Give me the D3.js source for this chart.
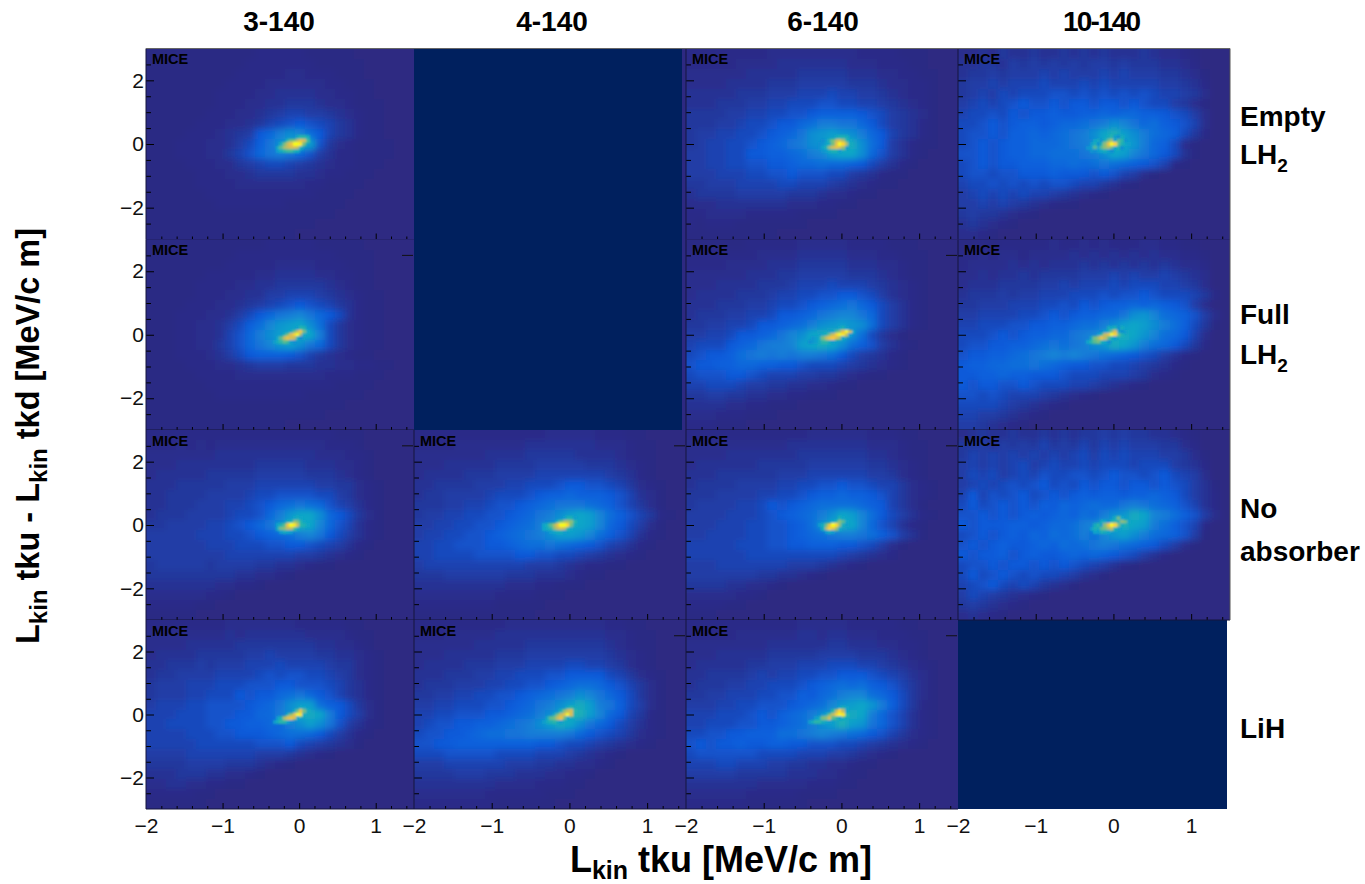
<!DOCTYPE html>
<html lang="en">
<head>
<meta charset="UTF-8">
<title>Lkin tku vs Lkin tku - Lkin tkd</title>
<script src="https://d3js.org/d3.v7.min.js"></script>
<style>
  html, body { margin: 0; padding: 0; background: #fff; }
  svg { display: block; }
  text { font-family: "Liberation Sans", Arial, sans-serif; fill: #000; }
  .title { font-weight: bold; }
  .tick text { font-size: 21px; fill: #111; font-family: "Liberation Sans", Arial, sans-serif; }
</style>
</head>
<body>
<svg id="chart" width="1365" height="884"></svg>
<script>
var columnTitles = ["3-140", "4-140", "6-140", "10-140"];
var rowTitles = [["Empty", "LH2"], ["Full", "LH2"], ["No", "absorber"], ["LiH"]];
var xLabelTicks = [-2, -1, 0, 1];
var xMajorTicks = [-1, 0, 1];
var xMinorTicks = [-1.8, -1.6, -1.4, -1.2, -0.8, -0.6, -0.4, -0.2, 0.2, 0.4, 0.6, 0.8, 1.2, 1.4];
var yLabelTicks = [2, 0, -2];
var yMinorTicks = [2.5, 1.5, 1, 0.5, -0.5, -1, -1.5, -2.5];

// bin contents, one digit per bin, base 36 (0 = empty, z = peak)
// 27 columns over x -2..1.5, 19 rows over y 3..-3
var empty3 = ["111111111112222211111000000","111111111122222221111100000","111111111222223322211100000","111111112222333333221110000","111111122223344443322110000","111111122233445554332111000","111111222334567766543211000","111112223345789a98754211000","11112223456acfhgda754211000","11122233468behklj9532111100","11122233579cefec96422111100","111122233567887654322111000","111112223345555443221110000","111112222333333322111100000","111111222222222221111000000","111111122222221111110000000","111111111111111111100000000","111111111111111110000000000","111111111111111000000000000"];
var empty6 = ["222222223333333332222111000","222223333444444433322211000","333333444445555544433221100","333344445556666655543322100","444445556667778776654322100","444555667788899887765432100","555566778899abbbba986543100","555667889aacdffeeca86542100","56677889abcehijihfca7542100","5677889abcefhilmlhda6421100","667788aabbcdfgjkkhc96421000","66778899aabccdccba864210000","6667778899a9998865421100000","556667777887776543211000000","455556666655543321100000000","333444444433322110000000000","223333222221111000000000000","212221111111000000000000000","111111111000000000000000000"];
var empty10 = ["334354454454545444543321000","445546565656566565554432000","455656667676667676665543100","566767778777878777776654200","567687888998989898987765300","678789a99a9aa9aa9a988653100","78898a9aabaabbcbccbba986300","889a9abbabccdefhgecdba97300","899a9bbcbcdefhkmjhfdcb85200","89a9abbcccdefgklkifcb831000","99a9abbccdddefhkjgeca841000","89a9aabbbccdcdedcba97210000","899899aaabaaa9a976310000000","788989898998775421000000000","678787877654321000000000000","667676543211000000000000000","565543210000000000000000000","454321000000000000000000000","332100000000000000000000000"];
var full3 = ["111111111111222221111100000","111111111222222222211110000","111111112222233332221110000","111111222223344443322110000","111112222334455555432110000","111112223344667776543211000","111122233456789a98754211000","11122233468acefgeca84211000","1112233468bdgijkhd853211000","1112233479cfhjklkf853211000","1112233579cegijhec853211000","1112223468abbba975432110000","111122233456665554433221100","111112222333333333222111000","111111222222222222211110000","111111122222222211111100000","111111111111111111110000000","111111111111111111000000000","111111111111110000000000000"];
var full6 = ["111111222223333322221110000","222222233334444433322111000","222233334445555544433211000","333333444556666655543211000","333444455567778777654321000","344445556778899aa9864321000","444555667889abcdeca86421000","455566778aabcefggec86421000","5566778aabcdfhijihd86421000","66778aabceghklmlhd853100000","7888abceffgjklkhdb964210000","89aabdefefeffeda86542100000","9aabbccbbaa9888765432100000","8999aa987776655432110000000","778887665544332110000000000","556655443322111000000000000","444433221110000000000000000","333222111000000000000000000","222111000000000000000000000"];
var full10 = ["112122222322323222332211000","223233233334343434343322100","233334343444545454545433200","334344545555666767667654300","344455556676777878887765300","455565667778889899a98887520","556667778898a9abbcbcba96300","667777889a9abbccehigdcb9630","7788899aabbcddfhjkjhfdb8510","8889a9abbccefgiklkigdca7300","899aabbcdedefhilkifdca85200","9aabbcdefgfgfedcba986421000","abbccddedcbaa99887654210000","aabbcbbaaa98887776532100000","a9aa99a98887765432100000000","998987776543210000000000000","888876543210000000000000000","776654321000000000000000000","665432100000000000000000000"];
var none3 = ["222222222222222222211100000","222323233333333333222100000","333333344444444443332210000","333444444445555544433210000","344444555556666655543210000","444555556667777776655321000","445555666678899998865321000","445556667789acdedc976421000","455566667889cfikkhca8531000","5566667789acehklkgc97421000","66666777889abcdfgea86421000","66666677788899aa98764210000","666666667777777665432100000","566666566665544321100000000","555555555443321000000000000","444444433221000000000000000","333333221000000000000000000","222221100000000000000000000","111110000000000000000000000"];
var none4 = ["222222222222233333222110000","222233333334444444333211000","333333344445555544443211000","333444445555666665554321000","344445556666777777765421000","445555666778889aa9987532100","455666678889abbcbbba9743100","5556677899abcdeeedcb9753100","566778899abcefhjkjgdb975210","66778899abcdfhjkkjgca863100","6778899abcdefhjjigdb9742100","7788999aabcddedcba976421000","7788889999aa998876543210000","677777777776665432211000000","555666666555444321100000000","444444444333221110000000000","333333332222111000000000000","222222221111100000000000000","111111111111000000000000000"];
var none6 = ["222222222222333333222110000","333333333344444444333211000","333344444445555555443211000","344444455555666666554321000","444555555666777777665321000","455556666778899a99877532100","555666677889abbcbba97532100","56666778a9abcddddcba7531000","666677789abcdfhkjgda8642100","6667778899abdhklkgc97421000","6677778899abcdeffedb9641000","7777788899aabbbaa9863100000","777777888888888765432000000","666777777766654321000000000","666666655443210000000000000","555544332100000000000000000","333332210000000000000000000","222211000000000000000000000","111000000000000000000000000"];
var none10 = ["345445445454556565544321000","556465657565757676665532000","576767676767868787776653100","676767867877878887888654200","687867879889989a9989a876300","67878989a898a9aa9aa9a986410","7a7989a89a9ababbabbcba86420","8a89a9a9bacbcdccefedcb97420","99a9a9ababcbdcfhilkgfdb9630","a9aaabbabccdfgjklkjfdb97200","89a9abacbdcdfdgijhfdcb96100","9a9abaabcbdcdefedcba8631000","a9aab9abaabcbcba98642000000","899a9aa9a9a9876421000000000","8a89a9898876431000000000000","789a87875431000000000000000","687654321000000000000000000","565432100000000000000000000","343210000000000000000000000"];
var lih3 = ["222222223333333222221100000","333333334344444433332110000","333344444555555554433210000","344445555566766665544321000","445556566677787777655321000","455666677778989988765321000","5666777888999aa999875421000","566677888a9aacdeca975421000","6777889999abcehjjdba8531000","777888999aaccfhklkfa8631000","77888899aabbccfhjhe96421000","777788899aaabcddca864210000","77777888888999a876543100000","666677777776665432100000000","555566665554321000000000000","444555443321000000000000000","334433221100000000000000000","222221100000000000000000000","111111000000000000000000000"];
var lih4 = ["222222222333333333322110000","222333334444444444433211000","333333444445555555543211000","333444445556666666654321000","344445556667777887765321000","444555667788899aaaa87532100","4555666778899abcddca9753100","5566778899abcdefhgeca853100","667788899abcefhjljfeb863100","7788999aabcdfhjlmjgca752100","7899aabbcdefhjlkheca8642100","899aabcddeeffffeca987532100","99aabbbbbbbbaa9887654321000","888999998888777654321000000","666777777666554433210000000","555566655544433221000000000","444444443333222110000000000","333333322222211100000000000","222222221111110000000000000"];
var lih6 = ["222222222223333322222110000","222223333334434433322211000","333333334444445544433221000","333444445555566665554321000","344444556667778887765432100","445555676778899aaa987643100","455566778889abcdcdba9753100","55667778899bacdfggdca853100","6667788999abcdgijkifb852100","7778889a9bcdfhjklkfc9742100","7788899aabcdfhjmjiec9742100","8899aabbbddefgfedca97532100","9a9aabaabbaa999887654321000","899999988887776654321000000","777887776655443321100000000","666665555544433211000000000","444444433333222110000000000","333333222221111000000000000","222222111111000000000000000"];

// finer read of the hot spot, 18 columns over x -0.52..0.26, 5 rows over y 0.27..-0.27, "." = nothing extra
var empty3Core = ["...........lnnl...","........nqrtvuo...","......lqtvzzyq....",".....lpstuutl.....",".....jlnooml......"];
var empty6Core = ["..........lmml....","......hjnqtusnk...",".....hiklqvzxsl...",".....hknsuvurj....","......ijlmmj......"];
var empty10Core = ["..........lnjhl...","......klhmqskpnh..",".....jlhmrvzxpmkj.","....ijpkprsqkmh...",".....ihjkljh......"];
var full3Core = ["...........jnm....",".........lqtwqk...",".......mquxzsk....",".....kptvutlh.....","....jlnpojh......."];
var full6Core = ["...........kmj....","........jkprvzuk..",".....jkmqtxzytj...","...ijlqtvwusk.....","..hijlnnlj........"];
var full10Core = ["..........lkmhl...",".........jlqukhj..",".......jntvzxpm...",".....lqsvtpmj.....","....knpqmkh......."];
var none3Core = ["..........klk.....","........lmrqnk....",".....kmpvzytnmk...",".....lqrttok......","......jlkj........"];
var none4Core = ["..........jmmj....","........mqssrn....","....kmpsvzzxql....","....klnrtutnk.....","......jkllj......."];
var none6Core = ["...........mk.....",".........knrpk....",".....jlqvzxrlj....","......ltxvrk......",".......jlj........"];
var none10Core = ["............lqk...","........lkhmnlrqk.","......lnjrvzxqlm..",".....jmlpqstmj....","......kjmlk......."];
var lih3Core = ["............lk....","..........lqvql...","........mrvzyl....",".....jmsuvuk......","....jlnnkh........"];
var lih4Core = ["...........lnl....",".........mrtun....",".......lqtvzum....",".....lpqtvqk......","....jlmnlj........"];
var lih6Core = ["...........kmk....",".........ntxtk....","......ilqtxzyn....","....jlqrupnk......","..jlnnlkj........."];

var panels = [
  { row: 0, col: 0, bins: empty3, core: empty3Core },
  { row: 0, col: 2, bins: empty6, core: empty6Core },
  { row: 0, col: 3, bins: empty10, core: empty10Core },
  { row: 1, col: 0, bins: full3, core: full3Core, mark: true },
  { row: 1, col: 2, bins: full6, core: full6Core, mark: true },
  { row: 1, col: 3, bins: full10, core: full10Core },
  { row: 2, col: 0, bins: none3, core: none3Core, mark: true },
  { row: 2, col: 1, bins: none4, core: none4Core, mark: true },
  { row: 2, col: 2, bins: none6, core: none6Core, mark: true },
  { row: 2, col: 3, bins: none10, core: none10Core },
  { row: 3, col: 0, bins: lih3, core: lih3Core },
  { row: 3, col: 1, bins: lih4, core: lih4Core, mark: true },
  { row: 3, col: 2, bins: lih6, core: lih6Core, mark: true }
];

var colEdges = [146, 414, 686, 958, 1230];
var rowEdges = [48.5, 239.5, 430, 620, 809];
var NAVY = "#00205e";

var svg = d3.select("#chart");
var defs = svg.append("defs");
defs.append("filter").attr("id", "soft").attr("x", "-5%").attr("y", "-5%").attr("width", "110%").attr("height", "110%")
  .append("feGaussianBlur").attr("stdDeviation", 3);
defs.append("filter").attr("id", "softCore").attr("x", "-20%").attr("y", "-20%").attr("width", "140%").attr("height", "140%")
  .append("feGaussianBlur").attr("stdDeviation", 0.9);

// ROOT bird palette, lowest colour darkened a bit to the picture's background
var level = d3.scalePow().exponent(1.7).domain([0, 35]).range([0, 1]);
var bird = d3.scaleLinear()
  .domain([0, 0.125, 0.25, 0.375, 0.5, 0.625, 0.75, 0.875, 1])
  .range(["#2d2982", "#0f5cdd", "#1481d6", "#06a4ca", "#2eb7a4", "#87bf77", "#d1bb59", "#fec832", "#f9fb0e"])
  .clamp(true);
function binColor(ch) { return bird(level(parseInt(ch, 36))); }

function xScale(col) { return d3.scaleLinear().domain([-2, 1.5]).range([colEdges[col], colEdges[col + 1]]); }
function yScale(row) { return d3.scaleLinear().domain([3, -3]).range([rowEdges[row], rowEdges[row + 1]]); }

// navy blocks where there is no data, with the thin purple sliver beside them
svg.append("rect").attr("x", colEdges[1]).attr("y", rowEdges[0]).attr("width", colEdges[2] - colEdges[1])
  .attr("height", rowEdges[2] - rowEdges[0]).attr("fill", bird(0));
svg.append("rect").attr("x", colEdges[1]).attr("y", rowEdges[0]).attr("width", colEdges[2] - colEdges[1] - 4)
  .attr("height", rowEdges[2] - rowEdges[0]).attr("fill", NAVY);
svg.append("rect").attr("x", colEdges[3]).attr("y", rowEdges[3]).attr("width", colEdges[4] - colEdges[3] - 3)
  .attr("height", rowEdges[4] - rowEdges[3]).attr("fill", NAVY);

panels.forEach(function(p, idx) {
  var x = xScale(p.col), y = yScale(p.row);
  var g = svg.append("g");
  var clipId = "clip" + idx;
  defs.append("clipPath").attr("id", clipId).append("rect")
    .attr("x", x(-2)).attr("y", y(3)).attr("width", x(1.5) - x(-2)).attr("height", y(-3) - y(3));

  g.append("rect").attr("x", x(-2)).attr("y", y(3)).attr("width", x(1.5) - x(-2)).attr("height", y(-3) - y(3))
    .attr("fill", bird(0));

  var clipped = g.append("g").attr("clip-path", "url(#" + clipId + ")");

  // coarse bins; the outermost ones run past the frame so the blur does not fade at the edge
  var nx = p.bins[0].length, ny = p.bins.length, dx = 3.5 / nx, dy = 6 / ny, over = 12;
  var cells = [];
  p.bins.forEach(function(line, r) {
    line.split("").forEach(function(ch, c) { cells.push({ r: r, c: c, ch: ch }); });
  });
  clipped.append("g").attr("filter", "url(#soft)").attr("shape-rendering", "crispEdges")
    .selectAll("rect").data(cells).enter().append("rect")
    .attr("x", function(d) { return x(-2 + d.c * dx) - (d.c === 0 ? over : 0); })
    .attr("y", function(d) { return y(3 - d.r * dy) - (d.r === 0 ? over : 0); })
    .attr("width", function(d) { return x(dx) - x(0) + 0.5 + (d.c === 0 || d.c === nx - 1 ? over : 0); })
    .attr("height", function(d) { return y(0) - y(dy) + 0.5 + (d.r === 0 || d.r === ny - 1 ? over : 0); })
    .attr("fill", function(d) { return binColor(d.ch); });

  // fine bins of the hot spot
  var cnx = 18, cny = 5, cdx = 0.78 / cnx, cdy = 0.54 / cny, hot = [];
  p.core.forEach(function(line, r) {
    line.split("").forEach(function(ch, c) { if (ch !== ".") hot.push({ r: r, c: c, ch: ch }); });
  });
  clipped.append("g").attr("filter", "url(#softCore)").attr("shape-rendering", "crispEdges")
    .selectAll("rect").data(hot).enter().append("rect")
    .attr("x", function(d) { return x(-0.52 + d.c * cdx); })
    .attr("y", function(d) { return y(0.27 - d.r * cdy); })
    .attr("width", x(cdx) - x(0) + 0.5)
    .attr("height", y(0) - y(cdy) + 0.5)
    .attr("fill", function(d) { return binColor(d.ch); });

  // ticks inside the frame
  var left = g.append("g").attr("transform", "translate(" + x(-2) + ",0)");
  left.call(d3.axisRight(y).tickValues(yMinorTicks).tickSize(5).tickFormat(""));
  left.select(".domain").remove();
  var leftMajor = g.append("g").attr("transform", "translate(" + x(-2) + ",0)");
  leftMajor.call(d3.axisRight(y).tickValues(yLabelTicks).tickSize(8).tickFormat(""));
  leftMajor.select(".domain").remove();

  var bottom = g.append("g").attr("transform", "translate(0," + y(-3) + ")");
  bottom.call(d3.axisTop(x).tickValues(xMinorTicks).tickSize(3).tickFormat(""));
  bottom.select(".domain").remove();
  var bottomMajor = g.append("g").attr("transform", "translate(0," + y(-3) + ")");
  bottomMajor.call(d3.axisTop(x).tickValues(xMajorTicks).tickSize(6).tickFormat(""));
  bottomMajor.select(".domain").remove();

  // frame: dark left and bottom lines
  g.append("line").attr("x1", x(-2)).attr("x2", x(-2)).attr("y1", y(3)).attr("y2", y(-3)).attr("stroke", "#14143c");
  g.append("line").attr("x1", x(-2)).attr("x2", x(1.5)).attr("y1", y(-3)).attr("y2", y(-3)).attr("stroke", "#14143c");

  if (p.mark) {
    g.append("line").attr("x1", x(1.5) - 12).attr("x2", x(1.5) - 1).attr("y1", y(2.5)).attr("y2", y(2.5)).attr("stroke", "#111");
  }

  g.append("text").attr("x", x(-2) + 6).attr("y", y(3) + 15.5)
    .attr("font-size", 14.5).attr("font-weight", "bold").text("MICE");
});

// outer frame bits at the top and the right
svg.append("line").attr("x1", colEdges[0]).attr("x2", colEdges[4]).attr("y1", rowEdges[0]).attr("y2", rowEdges[0]).attr("stroke", "#666");
svg.append("line").attr("x1", colEdges[4]).attr("x2", colEdges[4]).attr("y1", rowEdges[0]).attr("y2", rowEdges[3]).attr("stroke", "#555");

// tick labels on the outer edges
rowEdges.slice(0, 4).forEach(function(_, row) {
  var a = svg.append("g").attr("transform", "translate(" + (colEdges[0] - 1) + ",0)")
    .call(d3.axisLeft(yScale(row)).tickValues(yLabelTicks).tickSize(0).tickPadding(1).tickFormat(d3.format("d")));
  a.select(".domain").remove();
});
colEdges.slice(0, 4).forEach(function(_, col) {
  var a = svg.append("g").attr("transform", "translate(0," + (rowEdges[4] + 1) + ")")
    .call(d3.axisBottom(xScale(col)).tickValues(xLabelTicks).tickSize(0).tickPadding(8).tickFormat(d3.format("d")));
  a.select(".domain").remove();
});

// column titles
columnTitles.forEach(function(t, i) {
  var el = svg.append("text").attr("class", "title").attr("x", [279, 552, 823, 1102][i]).attr("y", 31)
    .attr("text-anchor", "middle").attr("font-size", 28).text(t);
  if (t === "10-140") el.attr("textLength", 78);
});

// row titles, LH2 gets a subscript
var rowTitleY = [[126, 164], [324, 364], [518, 561], [738]];
rowTitles.forEach(function(lines, r) {
  lines.forEach(function(t, i) {
    var el = svg.append("text").attr("class", "title").attr("x", 1240).attr("y", rowTitleY[r][i]).attr("font-size", 28);
    if (t === "LH2") {
      el.append("tspan").text("LH");
      el.append("tspan").attr("font-size", 19).attr("dy", 8).text("2");
    } else {
      el.text(t);
    }
  });
});

function axisTitle(el, size, subSize, shift, parts) {
  parts.forEach(function(part, i) {
    var prev = i > 0 ? parts[i - 1][1] : 0;
    el.append("tspan").attr("font-size", part[1] ? subSize : size)
      .attr("dy", part[1] ? shift : (prev ? -shift : 0)).text(part[0]);
  });
}

var xTitle = svg.append("text").attr("class", "title").attr("x", 721).attr("y", 872)
  .attr("text-anchor", "middle").style("white-space", "pre");
axisTitle(xTitle, 36, 25, 7, [["L", 0], ["kin", 1], [" tku [MeV/c m]", 0]]);

var yTitle = svg.append("text").attr("class", "title").attr("text-anchor", "middle").style("white-space", "pre")
  .attr("transform", "translate(39,436) rotate(-90)");
axisTitle(yTitle, 32.5, 24, 8, [["L", 0], ["kin", 1], [" tku - L", 0], ["kin", 1], [" tkd [MeV/c m]", 0]]);
</script>
</body>
</html>
